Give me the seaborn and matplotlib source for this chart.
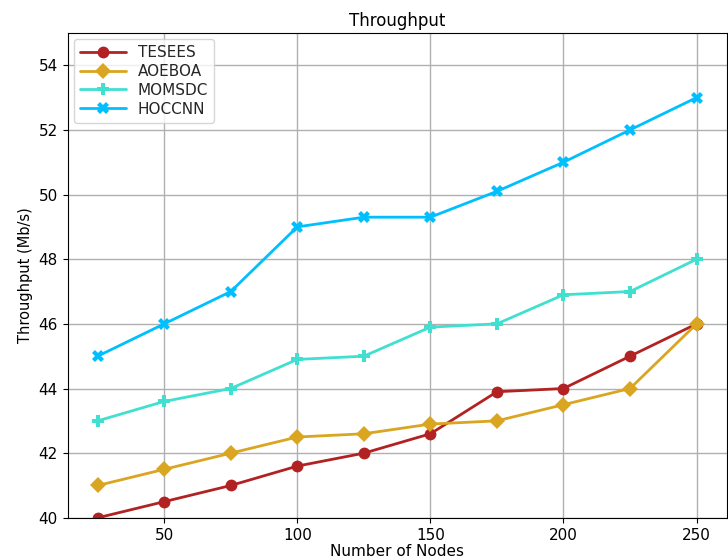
import matplotlib
matplotlib.use("Agg")
import matplotlib.pyplot as plt
import pandas as pd
import seaborn as sns

nodes = [25, 50, 75, 100, 125, 150, 175, 200, 225, 250]
tesees = [40.0, 40.5, 41.0, 41.6, 42.0, 42.6, 43.9, 44.0, 45.0, 46.0]
aoeboa = [41.0, 41.5, 42.0, 42.5, 42.6, 42.9, 43.0, 43.5, 44.0, 46.0]
momsdc = [43.0, 43.6, 44.0, 44.9, 45.0, 45.9, 46.0, 46.9, 47.0, 48.0]
hoccnn = [45.0, 46.0, 47.0, 49.0, 49.3, 49.3, 50.1, 51.0, 52.0, 53.0]

methods = ["TESEES", "AOEBOA", "MOMSDC", "HOCCNN"]
colors = ["#b22222", "#daa520", "#40e0d0", "#00bfff"]
markers = ["o", "D", "P", "X"]

frames = []
for name, vals in zip(methods, [tesees, aoeboa, momsdc, hoccnn]):
    frames.append(pd.DataFrame({"Nodes": nodes, "Throughput": vals, "Method": name}))
df = pd.concat(frames, ignore_index=True)

sns.set_style("ticks")
fig = plt.figure(figsize=(7.28, 5.58), dpi=100)
ax = fig.add_axes([0.093, 0.072, 0.905, 0.869])

sns.lineplot(data=df, x="Nodes", y="Throughput", hue="Method", style="Method",
             hue_order=methods, style_order=methods,
             palette=colors, markers=markers, dashes=False,
             linewidth=2, markersize=8.5, markeredgewidth=0, ax=ax)

ax.set_ylim(40, 55)
ax.set_yticks([40, 42, 44, 46, 48, 50, 52, 54])
ax.set_xticks([50, 100, 150, 200, 250])
ax.grid(True, color="#b0b0b0", linewidth=1)
ax.set_axisbelow(True)
for sp in ax.spines.values():
    sp.set_color("black")
ax.tick_params(labelsize=11, colors="black")
ax.set_title("Throughput", fontsize=12, color="black", pad=5)
ax.set_xlabel("Number of Nodes", fontsize=11, labelpad=1, color="black")
ax.set_ylabel("Throughput (Mb/s)", fontsize=10.5, color="black")
ax.legend(loc="upper left", fontsize=11, title=None, handlelength=3,
          labelspacing=0.25, borderaxespad=0.4)

fig.savefig("out.png", dpi=100)
plt.close(fig)
